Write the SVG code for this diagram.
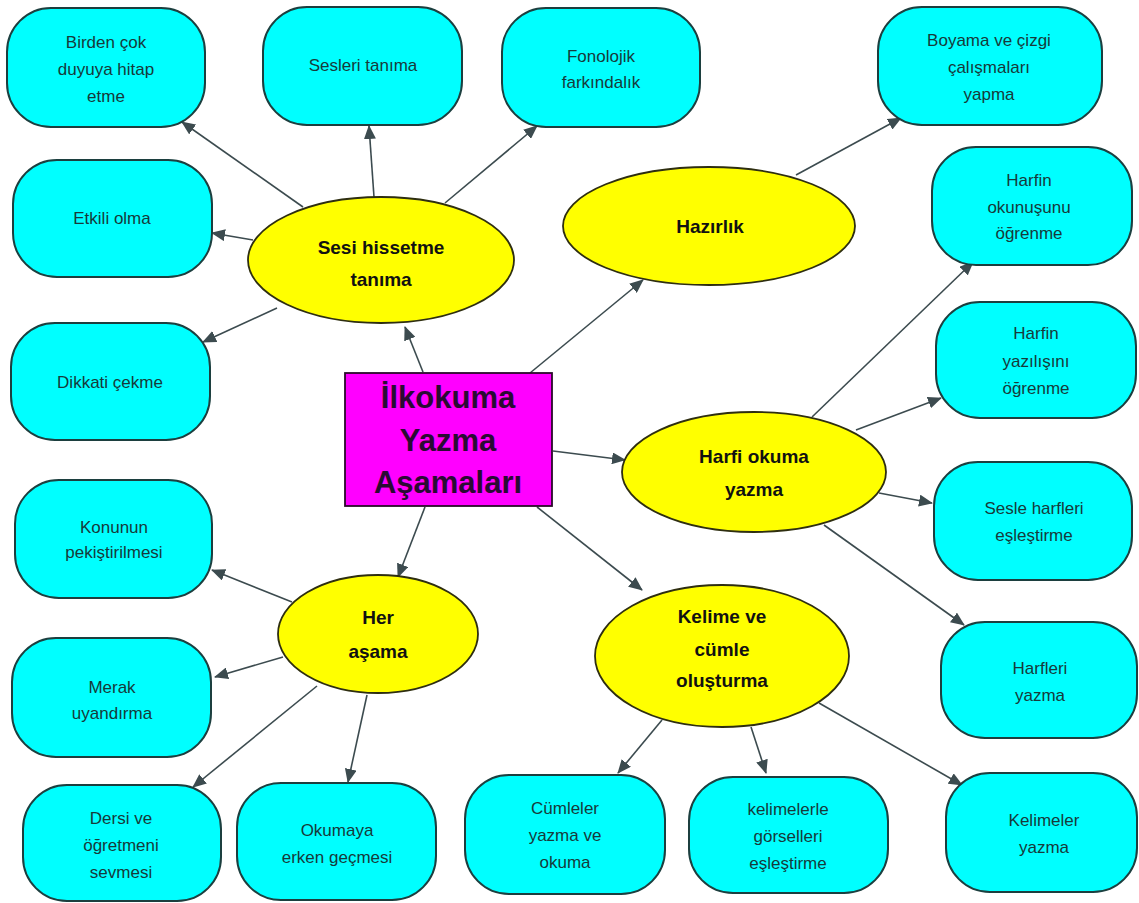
<svg xmlns="http://www.w3.org/2000/svg" width="1139" height="903" viewBox="0 0 1139 903">
<style>
.box{fill:#00FFFF;stroke:#1c3f3f;stroke-width:2}
.ell{fill:#FFFF00;stroke:#2e2e10;stroke-width:1.8}
.root{fill:#FF00FF;stroke:#2a0a2a;stroke-width:1.8}
.t{font-family:"Liberation Sans",Arial,sans-serif;font-size:17px;fill:#173a3a;text-anchor:middle}
.b{font-family:"Liberation Sans",Arial,sans-serif;font-size:19px;font-weight:bold;fill:#111;text-anchor:middle}
.r{font-family:"Liberation Sans",Arial,sans-serif;font-size:31px;font-weight:bold;fill:#2a0a33;text-anchor:middle}
.c line{stroke:#3c4b4f;stroke-width:1.6;marker-end:url(#ah)}
</style>
<defs>
<marker id="ah" markerUnits="userSpaceOnUse" markerWidth="14" markerHeight="12" refX="13" refY="6" orient="auto">
<path d="M0,0 L14,6 L0,12 z" fill="#3c4b4f"/>
</marker>
</defs>
<rect width="1139" height="903" fill="#fff"/>
<g class="c" id="connectors">
<line x1="303" y1="207" x2="182" y2="122"/>
<line x1="374" y1="197" x2="369" y2="126"/>
<line x1="445" y1="203" x2="537" y2="126"/>
<line x1="253" y1="240" x2="212" y2="233"/>
<line x1="277" y1="308" x2="203" y2="342"/>
<line x1="423" y1="372" x2="405" y2="327"/>
<line x1="530" y1="373" x2="643" y2="280"/>
<line x1="553" y1="451" x2="625" y2="460"/>
<line x1="537" y1="507" x2="642" y2="590"/>
<line x1="425" y1="507" x2="398" y2="577"/>
<line x1="796" y1="175" x2="901" y2="118"/>
<line x1="812" y1="417" x2="973" y2="262"/>
<line x1="856" y1="430" x2="941" y2="398"/>
<line x1="879" y1="493" x2="932" y2="503"/>
<line x1="824" y1="525" x2="964" y2="625"/>
<line x1="662" y1="720" x2="618" y2="773"/>
<line x1="751" y1="727" x2="766" y2="773"/>
<line x1="819" y1="703" x2="962" y2="785"/>
<line x1="292" y1="602" x2="212" y2="570"/>
<line x1="283" y1="657" x2="215" y2="677"/>
<line x1="317" y1="686" x2="193" y2="787"/>
<line x1="367" y1="695" x2="348" y2="782"/>
</g>
<g id="n-birden"><rect class="box" x="7" y="8" width="198" height="119" rx="44"/>
<text class="t" x="106" y="48">Birden çok</text><text class="t" x="106" y="75">duyuya hitap</text><text class="t" x="106" y="102">etme</text></g>
<g id="n-sesleri"><rect class="box" x="263" y="7" width="199" height="118" rx="44"/>
<text class="t" x="363" y="71">Sesleri tanıma</text></g>
<g id="n-fonolojik"><rect class="box" x="502" y="8" width="198" height="119" rx="44"/>
<text class="t" x="601" y="62">Fonolojik</text><text class="t" x="601" y="88">farkındalık</text></g>
<g id="n-boyama"><rect class="box" x="878" y="7" width="224" height="118" rx="44"/>
<text class="t" x="989" y="46">Boyama ve çizgi</text><text class="t" x="989" y="73">çalışmaları</text><text class="t" x="989" y="100">yapma</text></g>
<g id="n-etkili"><rect class="box" x="13" y="160" width="199" height="117" rx="44"/>
<text class="t" x="112" y="224">Etkili olma</text></g>
<g id="n-okunus"><rect class="box" x="932" y="147" width="200" height="118" rx="44"/>
<text class="t" x="1029" y="186">Harfin</text><text class="t" x="1029" y="213">okunuşunu</text><text class="t" x="1029" y="239">öğrenme</text></g>
<g id="n-dikkati"><rect class="box" x="11" y="323" width="199" height="117" rx="44"/>
<text class="t" x="110" y="388">Dikkati çekme</text></g>
<g id="n-yazilis"><rect class="box" x="936" y="302" width="200" height="116" rx="44"/>
<text class="t" x="1036" y="339">Harfin</text><text class="t" x="1036" y="367">yazılışını</text><text class="t" x="1036" y="394">öğrenme</text></g>
<g id="n-sesle"><rect class="box" x="934" y="462" width="198" height="118" rx="44"/>
<text class="t" x="1034" y="514">Sesle harfleri</text><text class="t" x="1034" y="541">eşleştirme</text></g>
<g id="n-konunun"><rect class="box" x="15" y="480" width="197" height="118" rx="44"/>
<text class="t" x="114" y="533">Konunun</text><text class="t" x="114" y="558">pekiştirilmesi</text></g>
<g id="n-merak"><rect class="box" x="12" y="638" width="199" height="119" rx="44"/>
<text class="t" x="112" y="693">Merak</text><text class="t" x="112" y="719">uyandırma</text></g>
<g id="n-dersi"><rect class="box" x="23" y="785" width="198" height="116" rx="44"/>
<text class="t" x="121" y="824">Dersi ve</text><text class="t" x="121" y="851">öğretmeni</text><text class="t" x="121" y="878">sevmesi</text></g>
<g id="n-okumaya"><rect class="box" x="237" y="783" width="199" height="117" rx="44"/>
<text class="t" x="337" y="836">Okumaya</text><text class="t" x="337" y="863">erken geçmesi</text></g>
<g id="n-cumleler"><rect class="box" x="465" y="775" width="200" height="119" rx="44"/>
<text class="t" x="565" y="814">Cümleler</text><text class="t" x="565" y="841">yazma ve</text><text class="t" x="565" y="868">okuma</text></g>
<g id="n-kelimelerle"><rect class="box" x="689" y="777" width="199" height="116" rx="44"/>
<text class="t" x="788" y="815">kelimelerle</text><text class="t" x="788" y="842">görselleri</text><text class="t" x="788" y="869">eşleştirme</text></g>
<g id="n-harfleri"><rect class="box" x="941" y="622" width="196" height="116" rx="44"/>
<text class="t" x="1040" y="674">Harfleri</text><text class="t" x="1040" y="701">yazma</text></g>
<g id="n-kelimeler"><rect class="box" x="946" y="773" width="191" height="119" rx="44"/>
<text class="t" x="1044" y="826">Kelimeler</text><text class="t" x="1044" y="853">yazma</text></g>
<g id="n-sesi"><ellipse class="ell" cx="381" cy="260" rx="133" ry="63"/>
<text class="b" x="381" y="254">Sesi hissetme</text><text class="b" x="381" y="286">tanıma</text></g>
<g id="n-hazirlik"><ellipse class="ell" cx="709" cy="226" rx="146" ry="59"/>
<text class="b" x="710" y="233">Hazırlık</text></g>
<g id="n-harfi"><ellipse class="ell" cx="754" cy="472" rx="132" ry="60"/>
<text class="b" x="754" y="463">Harfi okuma</text><text class="b" x="754" y="496">yazma</text></g>
<g id="n-kelime"><ellipse class="ell" cx="722" cy="656" rx="127" ry="71"/>
<text class="b" x="722" y="623">Kelime ve</text><text class="b" x="722" y="656">cümle</text><text class="b" x="722" y="687">oluşturma</text></g>
<g id="n-her"><ellipse class="ell" cx="378" cy="634" rx="100" ry="59"/>
<text class="b" x="378" y="624">Her</text><text class="b" x="378" y="658">aşama</text></g>
<g id="n-root"><rect class="root" x="345" y="373" width="207" height="133"/>
<text class="r" x="448" y="408">İlkokuma</text><text class="r" x="448" y="451">Yazma</text><text class="r" x="448" y="493">Aşamaları</text></g>
</svg>
